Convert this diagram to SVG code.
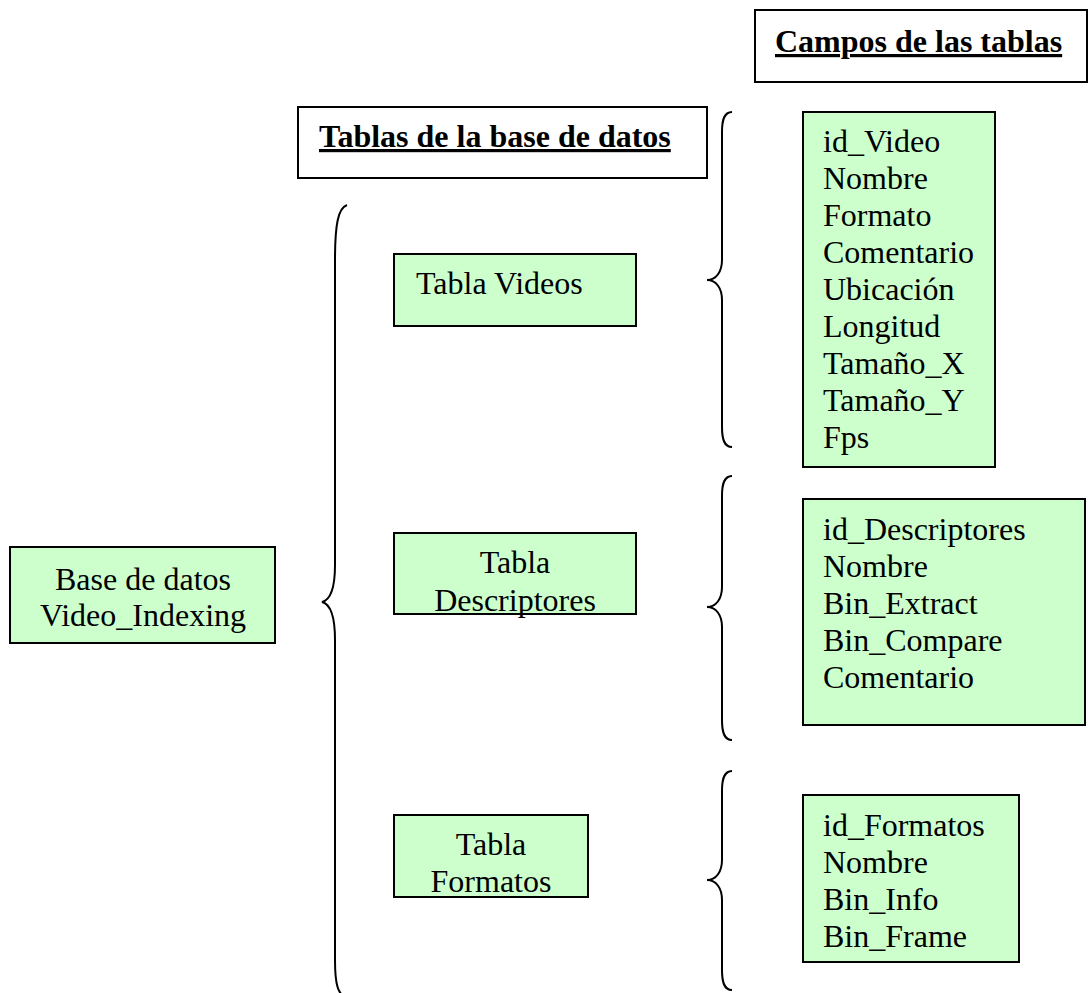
<svg xmlns="http://www.w3.org/2000/svg" width="1088" height="993" viewBox="0 0 1088 993">
<style>
.box{fill:#ccffcc;stroke:#000;stroke-width:2}
.hbox{fill:#fff;stroke:#000;stroke-width:2}
.t{font-family:"Liberation Serif","Times New Roman",serif;font-size:32px;fill:#000}
.h{font-family:"Liberation Serif","Times New Roman",serif;font-size:32px;font-weight:bold;text-decoration:underline;fill:#000}
.c{text-anchor:middle}
.br{fill:none;stroke:#000;stroke-width:2}
</style>
<rect width="1088" height="993" fill="#fff"/>
<g id="connectors">
<path class="br" d="M347,205 C338,208 335,225 335,260 L335,565 C335,590 330,600 322,602 C330,604 335,614 335,640 L335,960 C335,985 338,995 347,998"/>
<path class="br" d="M732,112 C724,112 722,120 722,132 L722,260 C722,272 716,280 707,280 C716,280 722,288 722,300 L722,427 C722,439 724,447 732,447"/>
<path class="br" d="M732,476 C724,476 722,484 722,496 L722,587 C722,599 716,607 707,607 C716,607 722,615 722,627 L722,720 C722,732 724,740 732,740"/>
<path class="br" d="M732,771 C724,771 722,779 722,791 L722,860 C722,872 716,880 707,880 C716,880 722,888 722,900 L722,970 C722,982 724,990 732,990"/>
</g>
<g id="header-campos">
<rect class="hbox" x="755" y="10" width="332" height="72"/>
<text class="h" x="775" y="52">Campos de las tablas</text>
</g>
<g id="header-tablas">
<rect class="hbox" x="298" y="107" width="409" height="71"/>
<text class="h" x="319" y="147">Tablas de la base de datos</text>
</g>
<g id="base-datos">
<rect class="box" x="10" y="547" width="265" height="96"/>
<text class="t c" x="143" y="590">Base de datos</text>
<text class="t c" x="143" y="626">Video_Indexing</text>
</g>
<g id="tabla-videos">
<rect class="box" x="394" y="254" width="242" height="72"/>
<text class="t" x="416" y="294">Tabla Videos</text>
</g>
<g id="tabla-descriptores">
<rect class="box" x="394" y="533" width="242" height="81"/>
<text class="t c" x="515" y="573">Tabla</text>
<text class="t c" x="515" y="611">Descriptores</text>
</g>
<g id="tabla-formatos">
<rect class="box" x="394" y="815" width="194" height="82"/>
<text class="t c" x="491" y="855">Tabla</text>
<text class="t c" x="491" y="892">Formatos</text>
</g>
<g id="campos-videos">
<rect class="box" x="803" y="112" width="192" height="355"/>
<text class="t" x="823" y="152">id_Video</text>
<text class="t" x="823" y="189">Nombre</text>
<text class="t" x="823" y="226">Formato</text>
<text class="t" x="823" y="263">Comentario</text>
<text class="t" x="823" y="300">Ubicación</text>
<text class="t" x="823" y="337">Longitud</text>
<text class="t" x="823" y="374">Tamaño_X</text>
<text class="t" x="823" y="411">Tamaño_Y</text>
<text class="t" x="823" y="448">Fps</text>
</g>
<g id="campos-descriptores">
<rect class="box" x="803" y="499" width="282" height="226"/>
<text class="t" x="823" y="540">id_Descriptores</text>
<text class="t" x="823" y="577">Nombre</text>
<text class="t" x="823" y="614">Bin_Extract</text>
<text class="t" x="823" y="651">Bin_Compare</text>
<text class="t" x="823" y="688">Comentario</text>
</g>
<g id="campos-formatos">
<rect class="box" x="803" y="795" width="216" height="167"/>
<text class="t" x="823" y="836">id_Formatos</text>
<text class="t" x="823" y="873">Nombre</text>
<text class="t" x="823" y="910">Bin_Info</text>
<text class="t" x="823" y="947">Bin_Frame</text>
</g>
</svg>
